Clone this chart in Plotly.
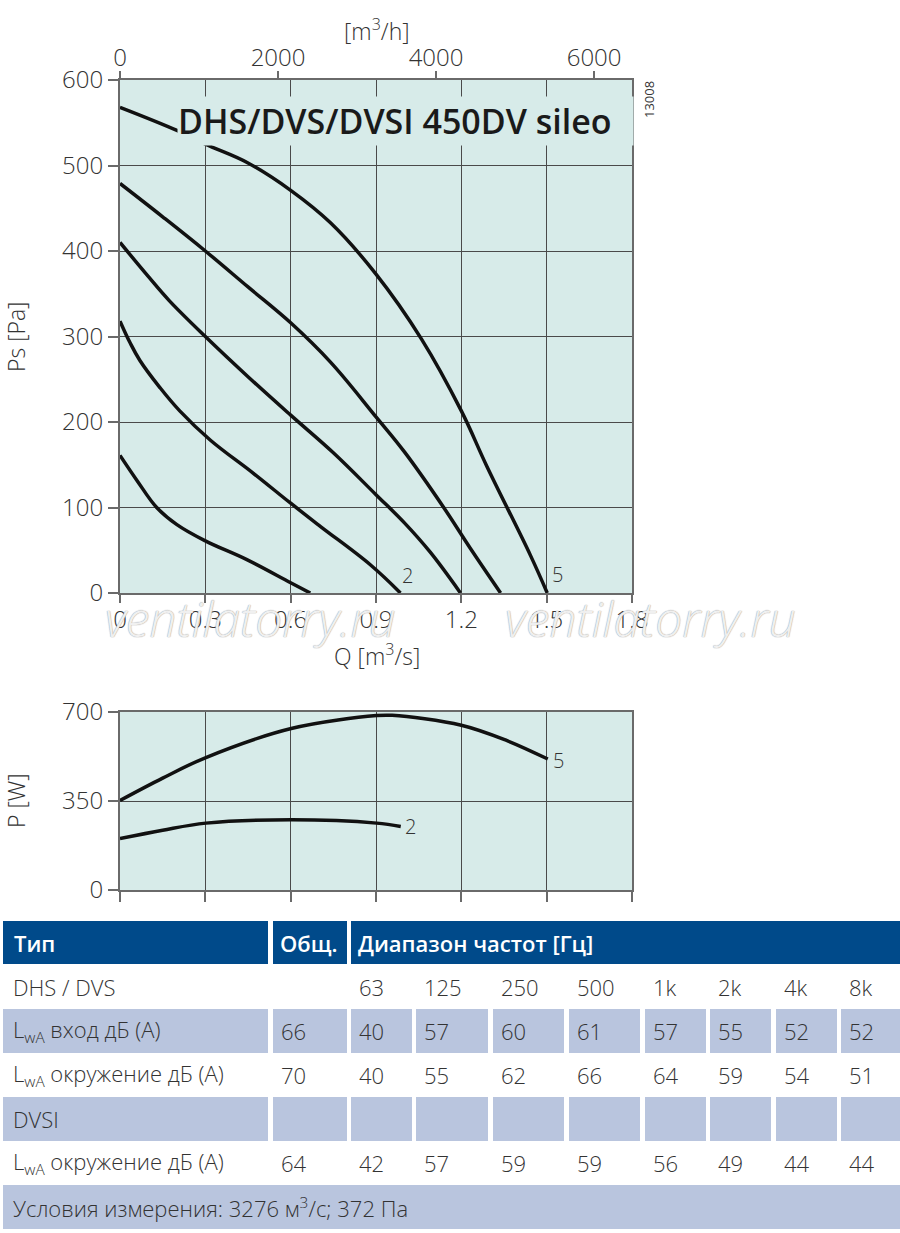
import plotly.graph_objects as go

W, H = 900, 1233

# -----------------------------
# Data
# -----------------------------

# Ps [Pa] vs Q [m3/s], five speed steps (1 = lowest, 5 = highest)
q_s1 = [0, 0.059, 0.129, 0.2, 0.3, 0.446, 0.6, 0.669]
ps_s1 = [161, 132, 100, 80, 61, 39, 12, 0]

q_s2 = [0, 0.035, 0.07, 0.141, 0.21, 0.317, 0.469, 0.6, 0.704, 0.88, 0.986]
ps_s2 = [318, 293, 272, 240, 213, 179, 140, 105, 78, 33, 0]

q_s3 = [0, 0.1, 0.173, 0.3, 0.45, 0.6, 0.75, 0.9, 1.0, 1.09, 1.197]
ps_s3 = [410, 370, 342, 300, 253, 208, 164, 115, 82, 48, 0]

q_s4 = [0, 0.15, 0.3, 0.45, 0.6, 0.74, 0.9, 1.0, 1.138, 1.232, 1.338]
ps_s4 = [479, 440, 400, 358, 316, 270, 206, 165, 100, 52, 0]

q_s5 = [0, 0.2, 0.3, 0.45, 0.6, 0.74, 0.9, 1.06, 1.2, 1.29, 1.443, 1.502]
ps_s5 = [568, 541, 525, 503, 471, 433, 373, 297, 213, 148, 44, 0]

# P [W] vs Q [m3/s]
q_p2 = [0, 0.15, 0.302, 0.602, 0.902, 0.987]
p_p2 = [202, 235, 263, 276, 263, 250]

q_p5 = [0, 0.15, 0.302, 0.602, 0.902, 0.957, 1.2, 1.357, 1.504]
p_p5 = [352, 440, 521, 635, 686, 687, 648, 589, 515]

q_ticks = [0, 0.3, 0.6, 0.9, 1.2, 1.5, 1.8]
q_ticktext = ["0", "0.3", "0.6", "0.9", "1.2", "1.5", "1.8"]
m3h_ticks = [0, 2000, 4000, 6000]
ps_ticks = [0, 100, 200, 300, 400, 500, 600]
p_ticks = [0, 350, 700]

# Sound table
tbl_header = ["Тип", "Общ.", "Диапазон частот [Гц]"]
bands = ["63", "125", "250", "500", "1k", "2k", "4k", "8k"]
row_names = [
    "DHS / DVS",
    "L<sub>wA</sub> вход дБ (A)",
    "L<sub>wA</sub> окружение дБ (A)",
    "DVSI",
    "L<sub>wA</sub> окружение дБ (A)",
]
row_total = ["", "66", "70", "", "64"]
lwa_inlet = [40, 57, 60, 61, 57, 55, 52, 52]
lwa_surround = [40, 55, 62, 66, 64, 59, 54, 51]
lwa_dvsi_surround = [42, 57, 59, 59, 56, 49, 44, 44]
footer = "Условия измерения: 3276 м<sup>3</sup>/с; 372 Па"

# -----------------------------
# Styling
# -----------------------------
BG = "#d7ebe9"
GRID = "#4a4a4a"
AXIS = "#6a6a6a"
TXT = "#333333"
CURVE = "#111111"
BLUE = "#004a8a"
SHADE = "#b9c5de"
FONT = "Open Sans"


def px_x(x):
    return x / W


def px_y(y):
    return 1 - y / H


fig = go.Figure()

curves = [(q_s1, ps_s1), (q_s2, ps_s2), (q_s3, ps_s3), (q_s4, ps_s4), (q_s5, ps_s5)]
for q, ps in curves:
    fig.add_trace(go.Scatter(
        x=q, y=ps, mode="lines", xaxis="x", yaxis="y",
        line=dict(color=CURVE, width=3.5, shape="spline", smoothing=1.1),
        hoverinfo="skip", showlegend=False,
    ))

# carrier for the m3/h axis
fig.add_trace(go.Scatter(
    x=[0, 1.8 * 3600], y=[0, 0], mode="lines", xaxis="x2", yaxis="y",
    line=dict(width=0), hoverinfo="skip", showlegend=False,
))

for q, p in [(q_p2, p_p2), (q_p5, p_p5)]:
    fig.add_trace(go.Scatter(
        x=q, y=p, mode="lines", xaxis="x3", yaxis="y3",
        line=dict(color=CURVE, width=3.5, shape="spline", smoothing=1.0),
        hoverinfo="skip", showlegend=False,
    ))

tickfont = dict(family=FONT, size=24, color=TXT, weight=300)
xdom = [px_x(120), px_x(632)]

common_axis = dict(
    showgrid=True, gridcolor=GRID, gridwidth=1,
    showline=True, linecolor=AXIS, linewidth=2, mirror=True,
    ticks="outside", tickcolor=AXIS, tickwidth=1.5,
    zeroline=False, tickfont=tickfont, fixedrange=True,
)

fig.update_layout(
    width=W, height=H,
    margin=dict(l=0, r=0, t=0, b=0, pad=0, autoexpand=False),
    paper_bgcolor="white", plot_bgcolor=BG,
    font=dict(family=FONT, color=TXT),
    showlegend=False,
    xaxis=dict(domain=xdom, anchor="y", range=[0, 1.8], tickvals=q_ticks,
               ticktext=q_ticktext, ticklen=8, ticklabelstandoff=-4, **common_axis),
    yaxis=dict(domain=[px_y(593), px_y(80)], anchor="x", range=[0, 600],
               tickvals=ps_ticks, ticklen=10, **common_axis),
    xaxis2=dict(overlaying="x", side="top", anchor="y", range=[0, 1.8 * 3600],
                tickvals=m3h_ticks, ticks="outside", ticklen=8, tickcolor=AXIS,
                tickwidth=1.5, showgrid=False, showline=False, zeroline=False,
                ticklabelstandoff=-5, tickfont=tickfont, fixedrange=True),
    xaxis3=dict(domain=xdom, anchor="y3", range=[0, 1.8], tickvals=q_ticks,
                showticklabels=False, ticklen=10, **common_axis),
    yaxis3=dict(domain=[px_y(890), px_y(712)], anchor="x3", range=[0, 700],
                tickvals=p_ticks, ticklen=10, **common_axis),
)

ann = []


def note(text, x, y, font, angle=0, xanchor="center"):
    ann.append(dict(text=text, xref="paper", yref="paper", x=px_x(x), y=px_y(y),
                    xanchor=xanchor, yanchor="middle", textangle=angle,
                    showarrow=False, font=font))


# chart title box (hides grid and curve behind it)
ann.append(dict(
    text="DHS/DVS/DVSI 450DV sileo", xref="paper", yref="paper",
    x=px_x(177), y=px_y(96), xanchor="left", yanchor="top",
    width=455, height=48, align="left", valign="middle",
    bgcolor=BG, borderpad=0, showarrow=False,
    font=dict(family=FONT, size=34, color="#1a1a1a", weight=600),
))
note("13008", 649, 100, dict(family=FONT, size=13, color=TXT), angle=-90)

# axis titles
title_font = dict(family=FONT, size=23, color=TXT, weight=300)
note("[m<sup>3</sup>/h]", 377, 30, title_font)
note("Q [m<sup>3</sup>/s]", 377, 655, title_font)
note("Ps [Pa]", 16, 337, title_font, angle=-90)
note("P [W]", 16, 801, title_font, angle=-90)

# curve labels
lab_font = dict(family=FONT, size=20, color=TXT, weight=300)
for xr, yr, q, v, dx, dy in [("x", "y", q_s2, ps_s2, 0.0, 20),
                             ("x", "y", q_s5, ps_s5, 0.008, 22),
                             ("x3", "y3", q_p2, p_p2, 0.008, -2),
                             ("x3", "y3", q_p5, p_p5, 0.01, -4)]:
    label = "2" if q in (q_s2, q_p2) else "5"
    ann.append(dict(text=label, xref=xr, yref=yr, x=q[-1] + dx, y=v[-1] + dy,
                    xanchor="left", yanchor="middle", showarrow=False, font=lab_font))

# watermark
wm_font = dict(family=FONT, size=48, color="rgba(255,255,255,0.85)",
               style="italic", weight=300,
               shadow="0px 0px 1px #9a9a9a, 0px 0px 1px #9a9a9a")
for cx in [250, 650]:
    note("ventilatorry.ru", cx, 618, wm_font)

# -----------------------------
# Sound table (cells as shapes, text as annotations)
# -----------------------------
col_edges = [(3, 268), (273, 347), (351, 412), (416, 488), (493, 564),
             (569, 640), (645, 706), (710, 771), (776, 837), (841, 900)]
head_edges = [(3, 268), (273, 347), (351, 900)]
row_edges = [(964, 1009), (1009, 1053), (1053, 1097), (1097, 1141), (1141, 1185)]
foot_edge = (1185, 1229)
head_row = (921, 964)
shaded_rows = [1, 3]

shapes = []


def cell(x0, x1, y0, y1, color):
    shapes.append(dict(type="rect", xref="paper", yref="paper",
                       x0=px_x(x0), x1=px_x(x1), y0=px_y(y1), y1=px_y(y0),
                       fillcolor=color, line=dict(width=0), layer="above"))


def cell_text(text, x, y0, y1, color=TXT, bold=False):
    note(text, x, (y0 + y1) / 2,
         dict(family=FONT, size=22, color=color, weight=600 if bold else 300),
         xanchor="left")


for (x0, x1), label in zip(head_edges, tbl_header):
    cell(x0, x1, head_row[0], head_row[1], BLUE)
    cell_text(label, x0 + 9 if x0 < 10 else x0 + 5, head_row[0], head_row[1],
              color="white", bold=True)

table_rows = []
for i, name in enumerate(row_names):
    if i == 0:
        vals = bands
    elif i == 1:
        vals = [str(v) for v in lwa_inlet]
    elif i == 2:
        vals = [str(v) for v in lwa_surround]
    elif i == 3:
        vals = [""] * len(bands)
    else:
        vals = [str(v) for v in lwa_dvsi_surround]
    table_rows.append([name, row_total[i]] + vals)

for r, (y0, y1) in enumerate(row_edges):
    for c, (x0, x1) in enumerate(col_edges):
        if r in shaded_rows:
            cell(x0, x1, y0, y1, SHADE)
        txt = table_rows[r][c]
        if txt:
            cell_text(txt, x0 + 8 if c == 0 else x0 + 6, y0, y1)

cell(3, 900, foot_edge[0], foot_edge[1], SHADE)
cell_text(footer, 11, foot_edge[0], foot_edge[1])

fig.update_layout(annotations=ann, shapes=shapes)

fig.write_html("out.html", config={"displayModeBar": False},
               post_script="document.body.style.margin='0';")
